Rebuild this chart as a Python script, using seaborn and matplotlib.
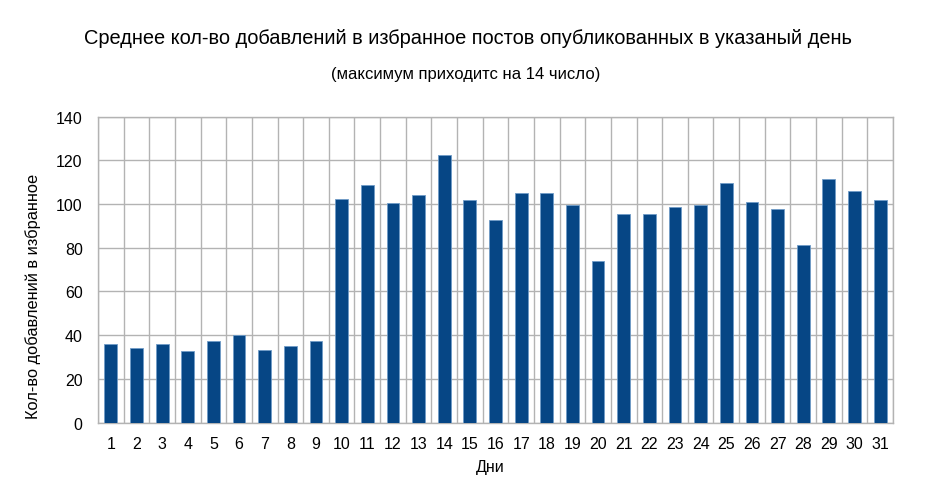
import matplotlib
matplotlib.use("Agg")
import matplotlib.pyplot as plt
import seaborn as sns
import pandas as pd
import numpy as np

days = [str(d) for d in range(1, 32)]
values = [36.1, 33.9, 36.1, 32.9, 37.2, 40.1, 33.1, 35.2, 37.1, 102.2,
          108.7, 100.2, 104.2, 122.5, 101.6, 92.6, 105.2, 104.8, 99.7, 74.0,
          95.6, 95.2, 98.4, 99.4, 109.8, 101.1, 97.9, 81.1, 111.5, 106.1, 101.7]
title = "Среднее кол-во добавлений в избранное постов опубликованных в указаный день"
subtitle = "(максимум приходитс на 14 число)"
xlabel = "Дни"
ylabel = "Кол-во добавлений в избранное"
yticks = [0, 20, 40, 60, 80, 100, 120, 140]

df = pd.DataFrame({"day": days, "value": values})

sns.set_theme(style="white")
plt.rcParams['font.family'] = ['Liberation Sans', 'DejaVu Sans']

W, H = 929, 502
fig = plt.figure(figsize=(W / 100, H / 100), dpi=100)
left, right, top, bottom = 98, 893, 117.5, 423.5
ax = fig.add_axes([left / W, 1 - bottom / H, (right - left) / W, (bottom - top) / H])

bar_color = "#064685"
sns.barplot(data=df, x="day", y="value", ax=ax, color=bar_color, width=0.5,
            saturation=1, edgecolor="#6f9cc8", linewidth=0.6, zorder=3)

ax.set_xlim(-0.5, len(days) - 0.5)
ax.set_ylim(0, 140)
ax.set_yticks(yticks)
ax.set_yticklabels([str(v) for v in yticks])
ax.tick_params(axis='y', length=6, color="#b3b3b3", width=1, pad=5, labelsize=11.5,
               labelcolor='black')

# vertical grid at category boundaries
bounds = np.arange(-0.5, len(days) + 0.5, 1)
ax.set_xticks(bounds, minor=True)
ax.tick_params(axis='x', which='minor', length=6, color="#b3b3b3", width=1)
ax.tick_params(axis='x', which='major', length=0, pad=10, labelsize=11.5, labelcolor='black')
ax.grid(True, which='minor', axis='x', color="#b3b3b3", linewidth=1, zorder=0)
ax.grid(True, which='major', axis='y', color="#b3b3b3", linewidth=1, zorder=0)
ax.grid(False, which='major', axis='x')
ax.set_axisbelow(True)
for s in ax.spines.values():
    s.set_color("#b3b3b3")
    s.set_linewidth(1)
ax.set_xlabel("")
ax.set_ylabel("")

fig.text(468 / W, 1 - 38 / H, title, ha='center', va='center', fontsize=14.4, color='black')
fig.text(466 / W, 1 - 75 / H, subtitle, ha='center', va='center', fontsize=12, color='black')
fig.text(490 / W, 1 - 468 / H, xlabel, ha='center', va='center', fontsize=11.5, color='black')
fig.text(33 / W, 1 - 296 / H, ylabel, ha='center', va='center', rotation=90, fontsize=11.8, color='black')

fig.savefig("out.png", dpi=100, facecolor="white")
